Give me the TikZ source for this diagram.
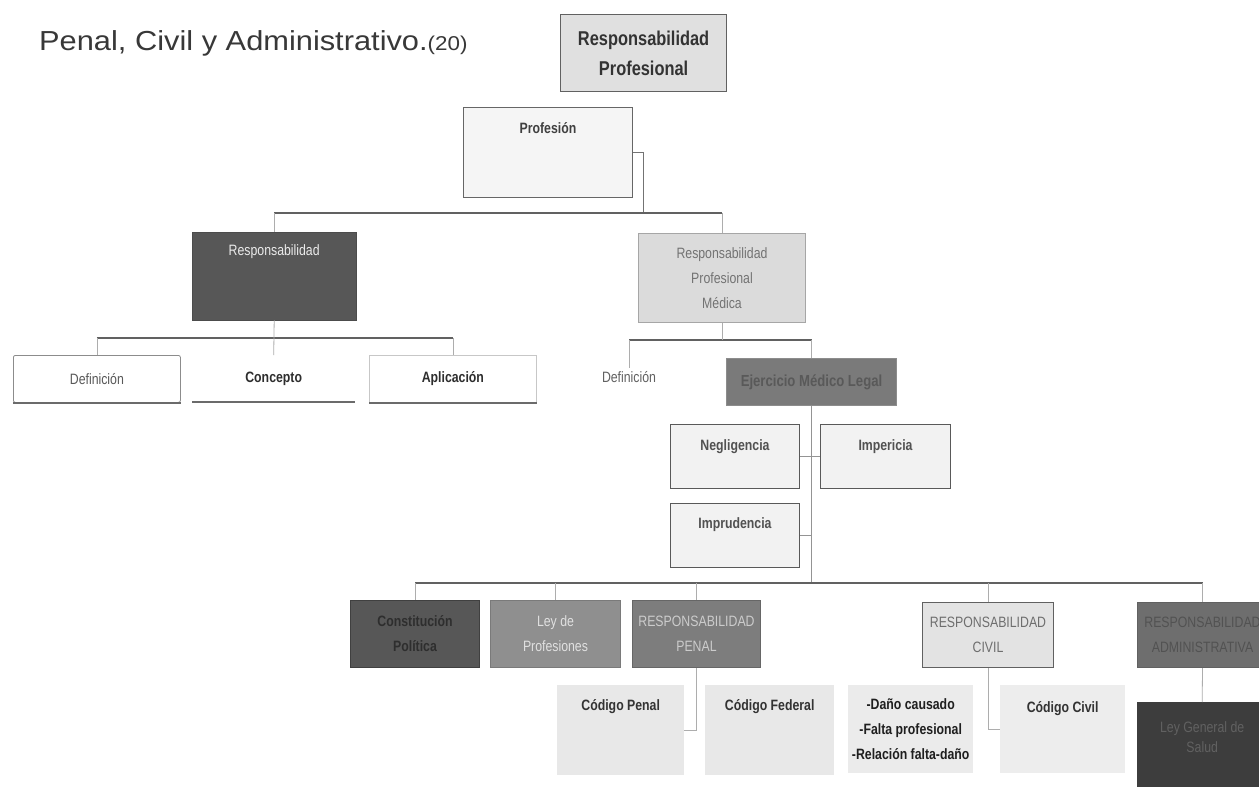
\documentclass[tikz,border=0pt]{standalone}
\usepackage{fontspec}
\setmainfont{Liberation Sans}
\newfontfamily\narrowfont[FakeStretch=0.82]{Liberation Sans}
\newfontfamily\headfont[FakeStretch=1.12]{Liberation Sans}
\begin{document}
\begin{tikzpicture}[x=1pt,y=-1pt,
  every node/.style={inner sep=0pt, font=\narrowfont\fontsize{15}{25}\selectfont},
  corners/.style args={#1/#2/#3/#4}{anchor=north west, at={(#1,#2)},
    minimum width={(#3)-(#1)}, minimum height={(#4)-(#2)}},
  toptext/.style args={#1/#2}{text height=#1, text depth=#2},
  title/.style={anchor=base west, font=\headfont\fontsize{27.5}{28}\selectfont, text=black!78},
  topbox/.style={fill=black!12, draw=black!62, line width=1.2pt, text=black!80,
    font=\narrowfont\bfseries\fontsize{20}{30}\selectfont, align=center},
  paperbox/.style={fill=black!4, draw=black!60, line width=1pt, text=black!75,
    font=\narrowfont\bfseries\fontsize{15}{25}\selectfont},
  darkbox/.style={fill=black!66, draw=black!70, text=black!8},
  flatbox/.style={fill=white, text=black!65},
  medbox/.style={fill=black!14, draw=black!35, line width=1pt, text=black!55, align=center},
  legalbox/.style={fill=black!52, draw=black!45, line width=1pt, text=black!65,
    font=\narrowfont\bfseries\fontsize{16}{25}\selectfont},
  faultbox/.style={fill=black!5, draw=black!65, line width=1pt, text=black!68,
    font=\narrowfont\bfseries\fontsize{15}{25}\selectfont},
  lawbox/.style={line width=1pt, align=center},
  codebox/.style={fill=black!9, text=black!80,
    font=\narrowfont\bfseries\fontsize{15}{25}\selectfont},
  plaintext/.style={anchor=center, text=black!62, inner sep=3pt},
  bus/.style={draw=black!62, line width=1.8pt},
  drop/.style={draw=black!32, line width=0.8pt},
  bracket/.style={draw=black!55, line width=1pt},
  spine/.style={draw=black!42, line width=1pt},
  edgeline/.style={draw=black!58, line width=2pt}]

\useasboundingbox (0,0) rectangle (1259,787);
\clip (0,0) rectangle (1259,787);
\fill[white] (0,0) rectangle (1259,787);

% heading
\node[title] (ttl) at (39,50) {Penal, Civil y Administrativo.{\fontsize{20}{20}\selectfont(20)}};

% upper levels
\node[topbox, corners=560/14/726/91] (rp) {Responsabilidad\\Profesional};
\node[paperbox, corners=463/107/632/197, toptext=26pt/64pt] (prof) {Profesión};

\node[darkbox, corners=192/232/356/320, toptext=23pt/65pt] (resp) {Responsabilidad};
\node[medbox, corners=638/233/805/322] (rpm) {Responsabilidad\\Profesional\\Médica};

% general responsibility
\node[flatbox, draw=black!45, line width=0.8pt, rounded corners=2pt, corners=13/355/180/402] (def1) {Definición};
\node[flatbox, text=black!82, font=\narrowfont\bfseries\fontsize{15}{25}\selectfont, corners=192/355/355/402] (conc) {Concepto};
\node[flatbox, draw=black!22, line width=0.8pt, text=black!82, font=\narrowfont\bfseries\fontsize{15}{25}\selectfont, corners=369/355/536/402] (apl) {Aplicación};
\draw[edgeline] (def1.south west) -- (def1.south east);
\draw[edgeline] (conc.south west) -- (conc.south east);
\draw[edgeline] (apl.south west) -- (apl.south east);

% medical responsibility
\node[plaintext] (def2) at (629,377) {Definición};
\node[legalbox, corners=726/358/896/405] (ejer) {Ejercicio Médico Legal};
\node[faultbox, corners=670/424/799/488, toptext=26pt/38pt] (neg) {Negligencia};
\node[faultbox, corners=820/424/950/488, toptext=26pt/38pt] (imp) {Impericia};
\node[faultbox, corners=670/503/799/567, toptext=25pt/39pt] (impr) {Imprudencia};

% legal framework
\node[lawbox, fill=black!66, draw=black!75, text=black!82, font=\narrowfont\bfseries\fontsize{15}{25}\selectfont, corners=350/600/479/667] (const) {Constitución\\Política};
\node[lawbox, fill=black!44, draw=black!52, text=black!12, corners=490/600/620/667] (ley) {Ley de\\Profesiones};
\node[lawbox, fill=black!51, draw=black!60, text=black!20, corners=632/600/760/667] (penal) {RESPONSABILIDAD\\PENAL};
\node[lawbox, fill=black!11, draw=black!62, text=black!57, corners=922/602/1053/667] (civil) {RESPONSABILIDAD\\CIVIL};
\node[lawbox, fill=black!57, draw=black!62, text=black!68, corners=1137/602/1267/667] (admin) {RESPONSABILIDAD\\ADMINISTRATIVA};

\node[codebox, corners=557/685/684/775, toptext=25pt/65pt] (cpen) {Código Penal};
\node[codebox, corners=705/685/834/775, toptext=25pt/65pt] (cfed) {Código Federal};
\node[codebox, fill=black!8, text=black!88, align=center, corners=848/685/973/773] (dano) {-Daño causado\\-Falta profesional\\-Relación falta-daño};
\node[codebox, fill=black!7, corners=1000/685/1125/773, toptext=27pt/61pt] (ccivil) {Código Civil};
\node[fill=black!76, text=black!62, font=\narrowfont\fontsize{15}{20}\selectfont, corners=1137/702/1267/800] (lgs)
  {\parbox[t][98pt][t]{130pt}{\centering\vspace*{19pt}Ley General de\\Salud}};

% connectors
\coordinate (j1) at (643,213);
\coordinate (j2) at (273,338);
\coordinate (j3) at (722,340);
\coordinate (j4) at (811,583);

\draw[bracket] (prof.east) -| (j1);
\draw[bus] (resp.north |- j1) -- (rpm.north |- j1);
\draw[drop] (resp.north |- j1) -- (resp.north);
\draw[drop] (rpm.north |- j1) -- (rpm.north);

\draw[bus] (def1.north |- j2) -- (apl.north |- j2);
\draw[drop] (resp.south) -- (conc.north);
\draw[drop] (def1.north |- j2) -- (def1.north);
\draw[drop] (apl.north |- j2) -- (apl.north);

\draw[bus] (def2.north |- j3) -- (ejer.north |- j3);
\draw[drop] (rpm.south) -- (rpm.south |- j3);
\draw[drop] (def2.north |- j3) -- (def2.north);
\draw[drop] (ejer.north |- j3) -- (ejer.north);

\draw[spine] (ejer.south) -- (ejer.south |- j4);
\draw[spine] (neg.east) -- (imp.west);
\draw[spine] (impr.east) -- (impr.east -| ejer.south);

\draw[bus] (const.north |- j4) -- (admin.north |- j4);
\foreach \n in {const,ley,penal,civil,admin}
  \draw[drop] (\n.north |- j4) -- (\n.north);
\draw[drop] (penal.south) |- (cpen.east);
\draw[drop] (civil.south) |- (ccivil.west);
\draw[drop] (admin.south) -- (lgs.north);
\end{tikzpicture}
\end{document}
